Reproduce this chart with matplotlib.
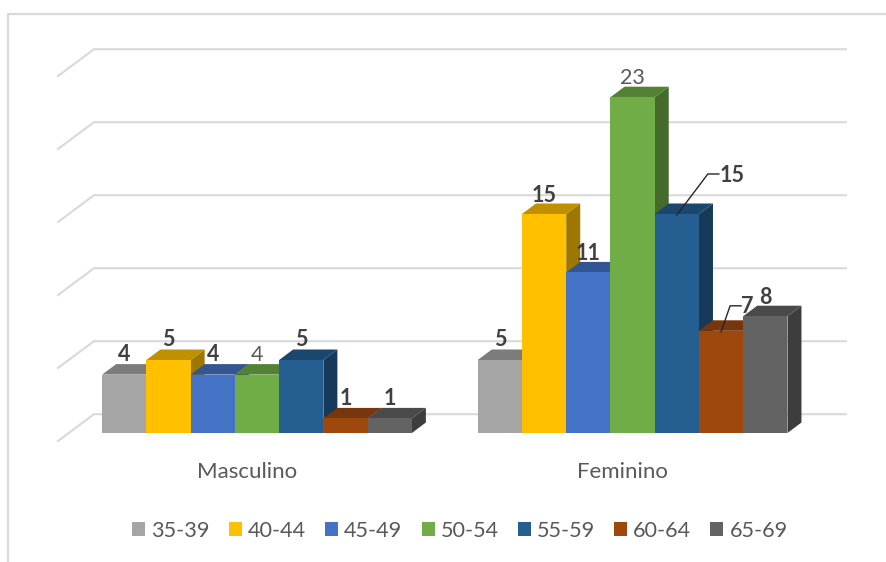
#!/usr/bin/env python3

import matplotlib
matplotlib.use('Agg')
import matplotlib.pyplot as plt
from matplotlib.lines import Line2D
from matplotlib.patches import Patch
from matplotlib.colors import to_rgb

groups = ['Masculino', 'Feminino']
ages = ['35-39', '40-44', '45-49', '50-54', '55-59', '60-64', '65-69']
masculino = [4, 5, 4, 4, 5, 1, 1]
feminino = [5, 15, 11, 23, 15, 7, 8]
colors = ['#a5a5a5', '#ffc000', '#4472c4', '#70ad47', '#255e91', '#9e480e', '#636363']
grid_values = [0, 5, 10, 15, 20, 25]

W, H = 887, 562
# pixels per data unit, and where value 0 / group 0 land
PX_X = 375.6
PX_Y = 14.6
X0 = 257.0
Y0 = 433.0
BAR_W = 44.25 / PX_X
DX = 14 / PX_X
DY = 10.5 / PX_Y
TEXT = '#404040'

plt.rcParams['font.family'] = ['Lato', 'DejaVu Sans']

fig = plt.figure(figsize=(W / 100, H / 100), dpi=100)
ax = fig.add_axes([0, 0, 1, 1])
ax.set_xlim(-X0 / PX_X, (W - X0) / PX_X)
ax.set_ylim((Y0 - H) / PX_Y, Y0 / PX_Y)
ax.axis('off')


def shade(color, k):
    return tuple(c * k for c in to_rgb(color))


# chart frame, only left and top are visible in the crop
fig.add_artist(Line2D([8.5 / W, 8.5 / W, 1], [0, 1 - 14 / H, 1 - 14 / H], color='#d9d9d9', lw=1.6))

# floor + back wall grid lines
for v in grid_values:
    x_front = ax.get_xlim()[0] + 58 / PX_X
    x_back = ax.get_xlim()[0] + 94 / PX_X
    x_end = ax.get_xlim()[0] + 846 / PX_X
    ax.plot([x_front, x_back, x_end], [v - 8 / PX_Y, v + 18.8 / PX_Y, v + 18.8 / PX_Y],
            color='#d9d9d9', lw=1.5, zorder=1, solid_joinstyle='miter')

for g, vals in enumerate([masculino, feminino]):
    lefts = [g + (i - 3.5) * BAR_W for i in range(len(vals))]
    # left to right: the top of the next bar hides the lower part of this side
    for i in range(len(vals)):
        l, r, v = lefts[i], lefts[i] + BAR_W, vals[i]
        z = 2 + i * 0.01
        ax.fill([r, r + DX, r + DX, r], [0, DY, v + DY, v],
                color=shade(colors[i], 0.62), lw=0, zorder=z)
        ax.fill([l, r, r + DX, l + DX], [v, v, v + DY, v + DY],
                color=shade(colors[i], 0.75), lw=0, zorder=z)
    ax.bar(lefts, vals, width=BAR_W, align='edge', color=colors, lw=0, zorder=3)
    ax.text(g - 10 / PX_X, -39.5 / PX_Y, groups[g], ha='center', va='center', color='#595959', fontsize=16)

# data labels, nudged in pixels from the centre of each bar top
label_offsets = {
    (0, 0): (0, 21), (0, 1): (0, 21), (0, 2): (0, 21), (0, 3): (0, 21),
    (0, 4): (0, 21), (0, 5): (0, 21), (0, 6): (0, 21),
    (1, 0): (0, 21), (1, 1): (0, 20), (1, 2): (0, 20), (1, 3): (0, 20),
    (1, 4): (55, 39), (1, 5): (26, 25), (1, 6): (0, 20),
}
plain = {(0, 3), (1, 3)}
for g, vals in enumerate([masculino, feminino]):
    for i, v in enumerate(vals):
        ox, oy = label_offsets[(g, i)]
        cx = g + (i - 3.0) * BAR_W
        ax.annotate(str(v), xy=(cx, v), xytext=(ox * 0.72, (oy - 1) * 0.72), textcoords='offset points',
                    ha='center', va='center', fontsize=15.5, color='#595959' if (g, i) in plain else TEXT,
                    fontweight='normal' if (g, i) in plain else 'bold', zorder=6)

# leader lines for the two labels moved off their bars
for g, i, pts in [(1, 4, [(0, -1), (31, 40), (42, 40)]), (1, 5, [(0, -1), (9, 25), (20, 25)])]:
    cx = g + (i - 3.0) * BAR_W
    v = feminino[i]
    ax.plot([cx + p[0] / PX_X for p in pts], [v + p[1] / PX_Y for p in pts],
            color='#262626', lw=1, zorder=5)

handles = [Patch(color=c, lw=0) for c in colors]
ax.legend(handles, ages, ncols=7, frameon=False, loc='center', bbox_to_anchor=(460 / W, 1 - 531 / H),
          fontsize=15.6, labelcolor='#595959', handlelength=0.6, handleheight=0.6,
          handletextpad=0.28, columnspacing=0.88, borderpad=0)

fig.savefig('out.png', dpi=100, facecolor='white')
